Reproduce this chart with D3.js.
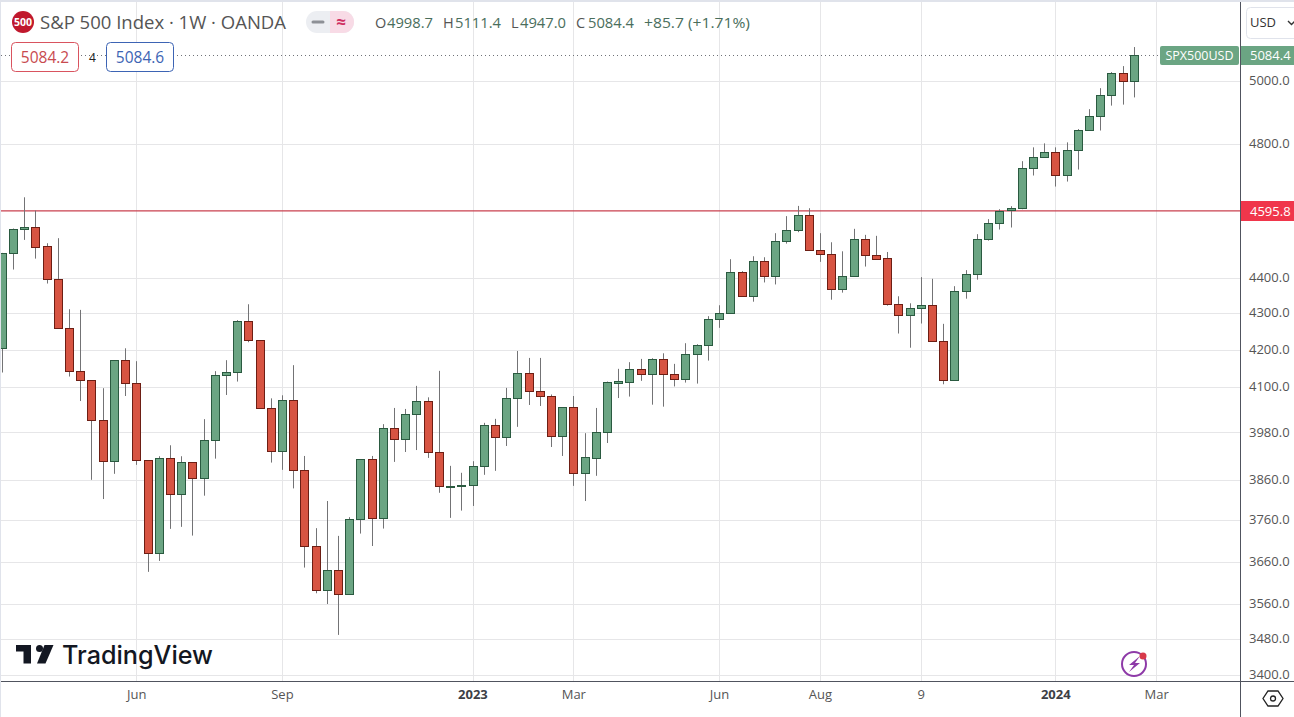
<!DOCTYPE html>
<html><head><meta charset="utf-8">
<style>html,body{margin:0;padding:0;background:#fff;overflow:hidden}svg{display:block}text{font-family:"Open Sans","Noto Sans",sans-serif}</style>
<script src="https://cdn.jsdelivr.net/npm/d3@7"></script></head><body>
<script>
const opens=[4203.4,4470.9,4541.5,4547.4,4491.3,4396.4,4258.8,4141.5,4117.4,4013.4,3906.3,4171.1,4109.3,3908.8,3679.5,3913.8,3823.3,3903.8,3863.6,3959.9,4130.8,4138.9,4278.2,4225.6,4043,3931.4,4063.7,3883.7,3696.3,3592.4,3639.5,3582.9,3762,3911.3,3764.5,3991,3962.5,4027.4,4061.1,3928.9,3842.4,3845,3845.9,3893.7,3998.8,3967.5,4069,4136.2,4087.3,4076.5,3970.1,4045.5,3876.3,3915.3,3980.6,4110.9,4113.6,4146.9,4133.5,4173.7,4133.5,4120.1,4187.2,4211.7,4283.7,4300.4,4416.5,4349.5,4448,4405,4506,4538.4,4582.9,4479.4,4468,4367.9,4405,4511.9,4465.1,4456.5,4325.3,4294.8,4314.2,4322.5,4222.8,4117.4,4362.1,4410.8,4511.9,4559.3,4597.7,4603.6,4725,4758.6,4773.9,4703.6,4780,4843.1,4887.3,4954,5025.7,4998.7];
const highs=[4472,4543.3,4636.4,4596.5,4500.1,4514.9,4311.4,4309.5,4117.4,4095.9,4171.1,4203.4,4168.4,3908.8,3918.9,3946.9,3918.9,3903.8,4014.4,4141.5,4171.1,4281,4325.3,4225.6,4069,4077.1,4157.6,3919.6,3740.1,3806.6,3721.4,3766.9,3911.3,3919.6,4001.4,4043.7,4041.1,4102.1,4071.7,4142.3,3894.5,3877,3906.3,4004.8,4015.2,4096.7,4196,4177.2,4177.2,4079.2,4045.5,4075.2,3978,4043.7,4113.6,4147.7,4165.7,4174.5,4176.4,4189.8,4161.1,4217.3,4214.5,4292,4322.5,4453.7,4419.3,4462.3,4459.4,4529.6,4580,4610.5,4603.6,4529.6,4503,4476.6,4542.4,4524.7,4521.8,4474.6,4347.8,4328,4402.2,4397.4,4270.7,4376.4,4422.2,4526.7,4571.1,4600.7,4609.6,4746.4,4789.2,4801.6,4789.2,4804.7,4846.2,4909.4,4976.8,5029,5048.6,5111.4];
const lows=[4137.8,4423.9,4509.9,4455.4,4383.9,4258.8,4127,4061.9,3859.3,3811.5,3874.4,4075.2,3897,3635.5,3661.4,3738.4,3743.3,3722.1,3819.8,3912.8,4077.9,4113.6,4220,4043,3902.8,3884.4,3837.9,3645.6,3585.3,3560.4,3489.7,3582.9,3727,3697,3739.1,3904.5,3929.7,3934.7,3914.6,3827,3765.2,3783,3794.4,3871.9,3881.9,3945.1,3994.4,4051.5,4048.9,3942.5,3919.6,3844.2,3806.6,3869.4,3952.7,4069.8,4073.7,4115.5,4052.3,4047.1,4100.5,4110.9,4108.2,4170,4259.6,4300.4,4346.6,4332.5,4387,4381.3,4499,4532.6,4479.4,4446,4338.1,4358.1,4405,4432.5,4452.5,4321.4,4243.9,4205,4271.6,4222.8,4106.4,4117.4,4341,4395,4507.7,4540.3,4546.3,4600.7,4702.4,4758.6,4668.8,4684,4720.7,4843.1,4841.8,4920.7,4923.9,4947];
const closes=[4470.9,4541.5,4547.4,4490.1,4396.4,4258.8,4141.5,4117.4,4013.4,3906.3,4171.1,4109.3,3908.8,3679.5,3913.8,3823.3,3903.8,3863.6,3959.9,4130.8,4138.9,4278.2,4225.6,4043,3931.4,4063.7,3883.7,3696.3,3592.4,3639.5,3582.9,3762,3911.3,3764.5,3991,3962.5,4027.4,4061.1,3928.9,3843.4,3844.2,3846.7,3893.7,3998.8,3967.5,4069,4136.2,4087.3,4075.5,3970.1,4045.5,3876.3,3916.4,3980.6,4112,4114.7,4146.9,4133.5,4173.7,4133.5,4120.1,4187.2,4211.7,4283.7,4300.4,4416.5,4349.5,4448,4405,4506,4538.4,4582.9,4479.4,4468,4367.9,4405,4511.9,4465.1,4455.4,4325.3,4294.8,4314.2,4322.5,4222.8,4117.4,4362.1,4410.8,4511.9,4559.3,4594.8,4603.6,4725,4758.6,4773.9,4703.6,4780,4843.1,4887.3,4954,5025.7,4999.6,5084.4];
const priceTicks=[5000,4800,4400,4300,4200,4100,3980,3860,3760,3660,3560,3480,3400];
const timeTickWeeks=[12,25,42,51,64,73,82,94,103];
const timeTickLabels=["Jun","Sep","2023","Mar","Jun","Aug","9","2024","Mar"];
const boldTimeLabels=["2023","2024"];
const lastPrice=5084.4, levelPrice=4595.8;
const ohlcText=[["O","4998.7"],["H","5111.4"],["L","4947.0"],["C","5084.4"]];
const changeText="+85.7 (+1.71%)";

const W=1294,H=717,paneR=1240,paneB=681;
const GREEN="#6ba583",GREEN_B="#2a5a40",RED="#d75442",RED_B="#6d1e14",WICK="#737375",GRID="#e6e6e8",AX="#50535e",TXT="#555";
const svg=d3.select("body").append("svg").attr("width",W).attr("height",H);
const x=d3.scaleLinear().domain([0,101]).range([2.3,1134.3]);
const y=d3.scaleLog().domain([3400,5000]).range([675,81]);
const cx=i=>Math.floor(x(i))+0.5;

svg.append("defs").append("clipPath").attr("id","pane").append("rect").attr("x",1).attr("y",2).attr("width",paneR-1).attr("height",paneB-2);
const pane=svg.append("g").attr("clip-path","url(#pane)");

// grid
pane.append("g").selectAll("line").data(timeTickWeeks).join("line")
 .attr("x1",cx).attr("x2",cx).attr("y1",2).attr("y2",paneB).attr("stroke",GRID);
pane.append("g").selectAll("line").data(priceTicks).join("line")
 .attr("x1",1).attr("x2",paneR).attr("y1",d=>Math.round(y(d))+.5).attr("y2",d=>Math.round(y(d))+.5).attr("stroke",GRID);

// last price dotted and level line
pane.append("line").attr("x1",1).attr("x2",1160).attr("y1",Math.round(y(lastPrice))+.5).attr("y2",Math.round(y(lastPrice))+.5)
 .attr("stroke","#6f7278").attr("stroke-dasharray","1 3");
pane.append("line").attr("x1",1).attr("x2",paneR).attr("y1",y(levelPrice)).attr("y2",y(levelPrice)).attr("stroke","#c9404f").attr("stroke-width",1.1);

// candles
const idx=d3.range(opens.length);
const g=pane.append("g");
g.selectAll("line").data(idx).join("line")
 .attr("x1",cx).attr("x2",cx).attr("y1",i=>y(highs[i])).attr("y2",i=>y(lows[i])).attr("stroke",WICK);
g.selectAll("rect").data(idx).join("rect")
 .attr("x",i=>cx(i)-4).attr("width",8)
 .attr("y",i=>Math.round(y(Math.max(opens[i],closes[i])))+.5)
 .attr("height",i=>Math.max(1,Math.round(y(Math.min(opens[i],closes[i])))-Math.round(y(Math.max(opens[i],closes[i])))))
 .attr("fill",i=>closes[i]>=opens[i]?GREEN:RED)
 .attr("stroke",i=>closes[i]>=opens[i]?GREEN_B:RED_B);

// frame
svg.append("rect").attr("x",0).attr("y",0).attr("width",W).attr("height",2).attr("fill","#e0e3eb");
svg.append("rect").attr("x",0).attr("y",0).attr("width",1).attr("height",H).attr("fill","#e0e3eb");
svg.append("line").attr("x1",1).attr("x2",W).attr("y1",paneB+.5).attr("y2",paneB+.5).attr("stroke",AX);
svg.append("line").attr("x1",paneR+.5).attr("x2",paneR+.5).attr("y1",2).attr("y2",H).attr("stroke",AX);

// price axis
const yAxis=d3.axisRight(y).tickValues(priceTicks).tickFormat(d3.format(".1f")).tickSize(0).tickPadding(0);
const gy=svg.append("g").attr("transform",`translate(1249,-0.5)`).call(yAxis);
gy.select(".domain").remove();
gy.selectAll("text").attr("fill",TXT).style("font-size","13px").style("font-family",'"Open Sans",sans-serif').attr("x",0);

// time axis
const xAxis=d3.axisBottom(d3.scaleLinear().domain([0,101]).range([cx(0)-.8,cx(101)-.8])).tickValues(timeTickWeeks).tickFormat((d,i)=>timeTickLabels[i]).tickSize(0).tickPadding(0);
const gx=svg.append("g").attr("transform",`translate(0,690)`).call(xAxis);
gx.select(".domain").remove();
gx.selectAll("text").attr("fill",function(){return boldTimeLabels.includes(this.textContent)?"#3d3f46":TXT;})
 .style("font-size","13px").style("font-family",'"Open Sans",sans-serif')
 .style("font-weight",function(){return boldTimeLabels.includes(this.textContent)?700:400;});

function label(s,px,py,opt={}){
 const t=svg.append("text").text(s).attr("x",px).attr("y",py).attr("fill",opt.fill||TXT).style("font-size",(opt.size||13)+"px")
  .attr("text-anchor",opt.anchor||"start").style("font-weight",opt.weight||400);
 if(opt.family)t.style("font-family",opt.family);
 if(opt.len)t.attr("textLength",opt.len).attr("lengthAdjust","spacingAndGlyphs");
 return t;
}

// price tags
svg.append("rect").attr("x",1160).attr("y",46).attr("width",79).attr("height",19).attr("rx",2).attr("fill",GREEN);
label("SPX500USD",1199.5,60,{fill:"#fff",size:13,anchor:"middle",len:68});
svg.append("rect").attr("x",1241).attr("y",46).attr("width",53).attr("height",19).attr("fill",GREEN);
label(d3.format(".1f")(lastPrice),1250,60,{fill:"#fff",size:13,weight:500});
svg.append("rect").attr("x",1241).attr("y",201).attr("width",53).attr("height",20).attr("fill","#f0364b");
label(d3.format(".1f")(levelPrice),1250,216,{fill:"#fff",size:13,weight:500});

// currency button
svg.append("rect").attr("x",1246.5).attr("y",7.5).attr("width",60).attr("height",31).attr("rx",4).attr("fill","#fff").attr("stroke","#e0e3eb");
label("USD",1250,27,{fill:"#333",size:13});
svg.append("path").attr("d","M1288 21l3.5 3.5 3.5-3.5").attr("fill","none").attr("stroke","#333").attr("stroke-width",1.4);

// header
svg.append("circle").attr("cx",23).attr("cy",22).attr("r",11).attr("fill","#c0182d");
label("500",23,26,{fill:"#fff",size:10.5,weight:700,anchor:"middle"});
label("S&P 500 Index · 1W · OANDA",40,29,{fill:"#555",size:18,len:246});
svg.append("rect").attr("x",306).attr("y",11).attr("width",48).attr("height",22).attr("rx",11).attr("fill","#eceef2");
svg.append("path").attr("d","M330 11h13a11 11 0 0 1 0 22h-13z").attr("fill","#f8dbe6");
svg.append("line").attr("x1",313).attr("x2",323).attr("y1",22).attr("y2",22).attr("stroke","#8d9096").attr("stroke-width",3).attr("stroke-linecap","round");
label("≈",341,28,{fill:"#cf2f62",size:17,anchor:"middle",weight:700});

const ohlcX=[375,443,511,576];
const valueFill="#4a6e5c";
ohlcText.forEach((d,i)=>{
 label(d[0],ohlcX[i],28,{fill:"#555",size:14.5});
 label(d[1],ohlcX[i]+(d[0]==="L"?9:12),28,{fill:valueFill,size:14.5,len:46});
});
label(changeText,644,28,{fill:valueFill,size:14.5,len:106});

// bid / ask
svg.append("rect").attr("x",11.5).attr("y",42.5).attr("width",67).attr("height",29).attr("rx",4).attr("fill","#fff").attr("stroke","#d9535f");
label("5084.2",45,63,{fill:"#c84a4f",size:15.5,anchor:"middle"});
label("4",92.5,62,{fill:"#222",size:12,anchor:"middle"});
svg.append("rect").attr("x",106.5).attr("y",42.5).attr("width",67).attr("height",29).attr("rx",4).attr("fill","#fff").attr("stroke","#3d64b4");
label("5084.6",140,63,{fill:"#3d64b4",size:15.5,anchor:"middle"});

// watermark
const logo=svg.append("g").attr("fill","#131722");
logo.append("path").attr("d","M16 645h15v18.500h-7.500v-12H16z");
logo.append("circle").attr("cx",39.500).attr("cy",648.500).attr("r",3.500);
logo.append("path").attr("d","M44.500 645H53.500L45.500 663.500H37z");
label("TradingView",62,664,{fill:"#131722",size:25.5,weight:500,family:"Inter,sans-serif",len:151});

// bolt icon and settings
svg.append("circle").attr("cx",1134).attr("cy",664).attr("r",12).attr("fill","none").attr("stroke","#8e3aa8").attr("stroke-width",2);
svg.append("path").attr("d","M1140 656l-11 9h5l-5 7 11-9h-5z").attr("fill","#8e3aa8");
svg.append("circle").attr("cx",1143).attr("cy",656).attr("r",3.500).attr("fill","#d8394a");
svg.append("path").attr("d","M1268 691h10l5 7.500-5 7.500h-10l-5-7.500z").attr("fill","none").attr("stroke","#222").attr("stroke-width",1.3);
svg.append("circle").attr("cx",1273).attr("cy",698.500).attr("r",2.500).attr("fill","none").attr("stroke","#222").attr("stroke-width",1.3);
</script></body></html>
